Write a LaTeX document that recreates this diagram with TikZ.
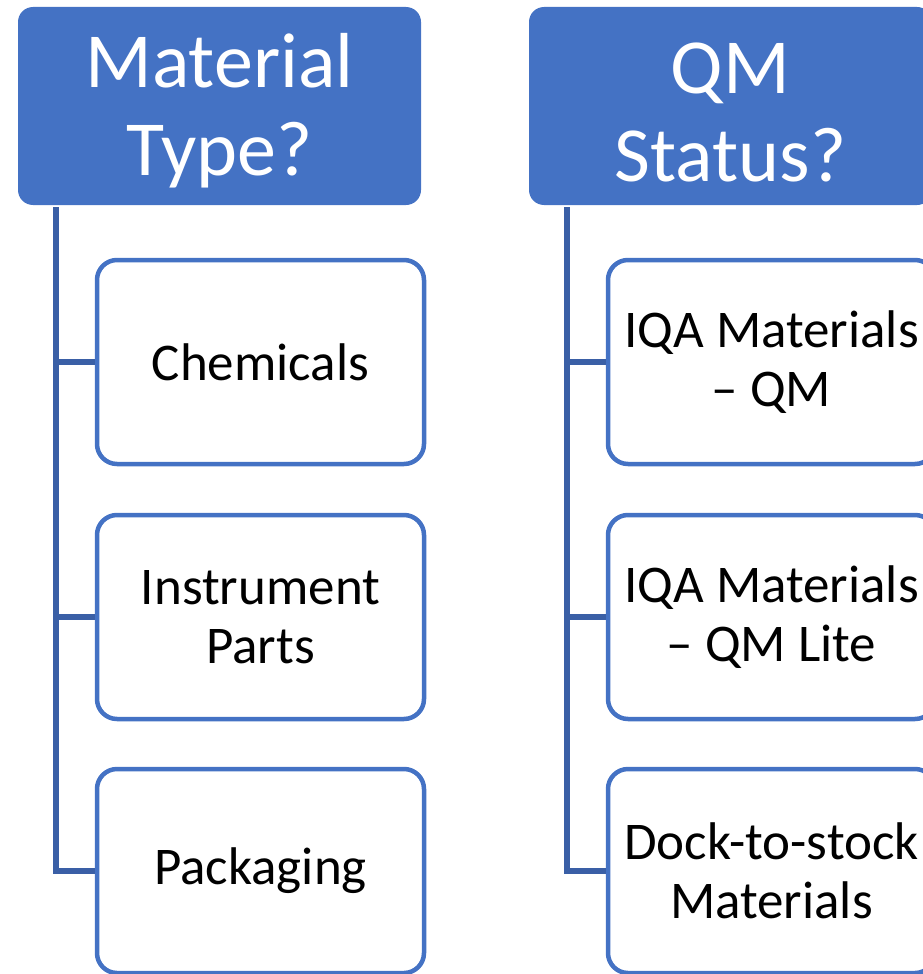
\documentclass[tikz,border=0pt]{standalone}
\usepackage{fontspec}
\setmainfont{Carlito}
\definecolor{accent}{HTML}{4472C4}
\definecolor{connblue}{HTML}{3A5FA6}
\newcommand{\headstrut}{\rule{0pt}{63pt}}
\begin{document}
\begin{tikzpicture}[x=1pt,y=-1pt,
  head/.style={fill=accent, rounded corners=15pt, minimum width=403pt, minimum height=198pt,
    inner sep=0pt, text=white, align=center, font=\fontsize{78}{88}\selectfont},
  child/.style={draw=accent, line width=4.5pt, fill=white, rounded corners=20pt,
    minimum width=327pt, minimum height=204pt, inner sep=0pt, align=center,
    font=\fontsize{53}{59}\selectfont},
  conn/.style={draw=connblue, line width=5.5pt}]
\path[use as bounding box] (0,0) rectangle (923,974);
\clip (0,0) rectangle (923,974);

% left column
\node[head] (h1) at (219.5,106) {\headstrut Material\\Type?};
\node[child] (a1) at (260.5,362) {Chemicals};
\node[child] (a2) at (260.5,617) {Instrument\\Parts};
\node[child] (a3) at (260.5,871) {Packaging};
\coordinate (t1) at (56,207);
\draw[conn] (t1) |- (a3.west);
\draw[conn] (t1 |- a1.west) -- (a1.west);
\draw[conn] (t1 |- a2.west) -- (a2.west);

% right column
\node[head] (h2) at (730.5,106) {\headstrut QM\\Status?};
\node[child] (b1) at (771.5,362) {IQA Materials\\– QM};
\node[child] (b2) at (771.5,617) {IQA Materials\\– QM Lite};
\node[child] (b3) at (771.5,871) {Dock-to-stock\\Materials};
\coordinate (t2) at (567,207);
\draw[conn] (t2) |- (b3.west);
\draw[conn] (t2 |- b1.west) -- (b1.west);
\draw[conn] (t2 |- b2.west) -- (b2.west);
\end{tikzpicture}
\end{document}
